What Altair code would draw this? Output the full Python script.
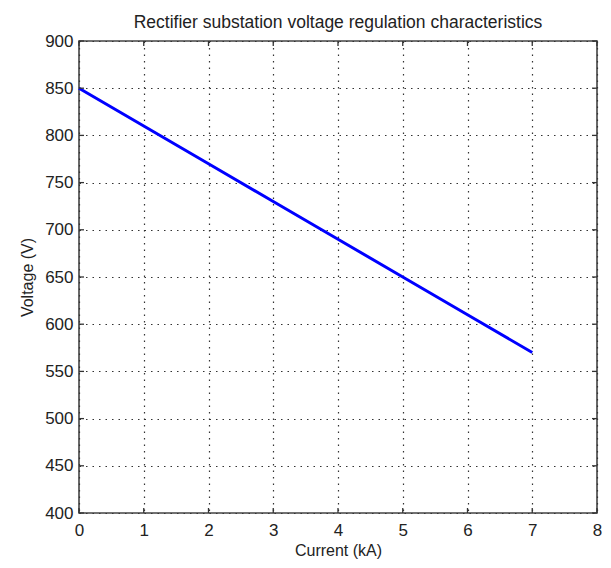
import altair as alt
import pandas as pd

# Data
current_ka = [0, 1, 2, 3, 4, 5, 6, 7]
voltage_v = [850, 810, 770, 730, 690, 650, 610, 570]

x_ticks = [0, 1, 2, 3, 4, 5, 6, 7, 8]
y_ticks = [400, 450, 500, 550, 600, 650, 700, 750, 800, 850, 900]

title_text = "Rectifier substation voltage regulation characteristics"
x_title = "Current (kA)"
y_title = "Voltage (V)"

W, H = 518, 472
FONT = "Liberation Sans, Arial, sans-serif"

df = pd.DataFrame({"current": current_ka, "voltage": voltage_v})
xt = pd.DataFrame({"current": x_ticks})
yt = pd.DataFrame({"voltage": y_ticks})

xscale = alt.Scale(domain=[0, 8], nice=False, zero=False)
yscale = alt.Scale(domain=[400, 900], nice=False, zero=False)

grid_kw = dict(grid=True, gridDash=[1.5, 5], gridColor="#333333", gridWidth=1.2,
               ticks=False, domain=False, labelFont=FONT, titleFont=FONT,
               titleFontWeight="normal", labelColor="#222", titleColor="#222",
               labelFontSize=17, titleFontSize=16, labelFlush=False)

x_axis = alt.Axis(values=x_ticks, title=x_title, labelPadding=9, titlePadding=4, **grid_kw)
y_axis = alt.Axis(values=y_ticks, title=y_title, labelPadding=6, titlePadding=9, **grid_kw)

X = alt.X("current:Q", scale=xscale, axis=x_axis)
Y = alt.Y("voltage:Q", scale=yscale, axis=y_axis)

line = alt.Chart(df).mark_line(color="#0000ff", strokeWidth=3).encode(x=X, y=Y)

tick_style = dict(color="#333", strokeWidth=1.3)
xb = alt.Chart(xt).mark_rule(**tick_style).encode(x=X, y=alt.value(H), y2=alt.value(H - 5))
xtop = alt.Chart(xt).mark_rule(**tick_style).encode(x=X, y=alt.value(0), y2=alt.value(5))
yl = alt.Chart(yt).mark_rule(**tick_style).encode(y=Y, x=alt.value(0), x2=alt.value(5))
yr = alt.Chart(yt).mark_rule(**tick_style).encode(y=Y, x=alt.value(W), x2=alt.value(W - 5))

chart = alt.layer(line, xb, xtop, yl, yr).properties(
    width=W, height=H,
    title=alt.TitleParams(title_text, fontSize=17.5, font=FONT, fontWeight="normal",
                          color="#222", offset=1, anchor="middle"),
    autosize=alt.AutoSizeParams(type="none"),
    padding={"left": 71, "top": 33, "right": 6, "bottom": 47},
    background="white",
).configure_view(stroke="#444", strokeWidth=1.6)

chart.save("out.html", embed_options={"renderer": "svg", "actions": False})
